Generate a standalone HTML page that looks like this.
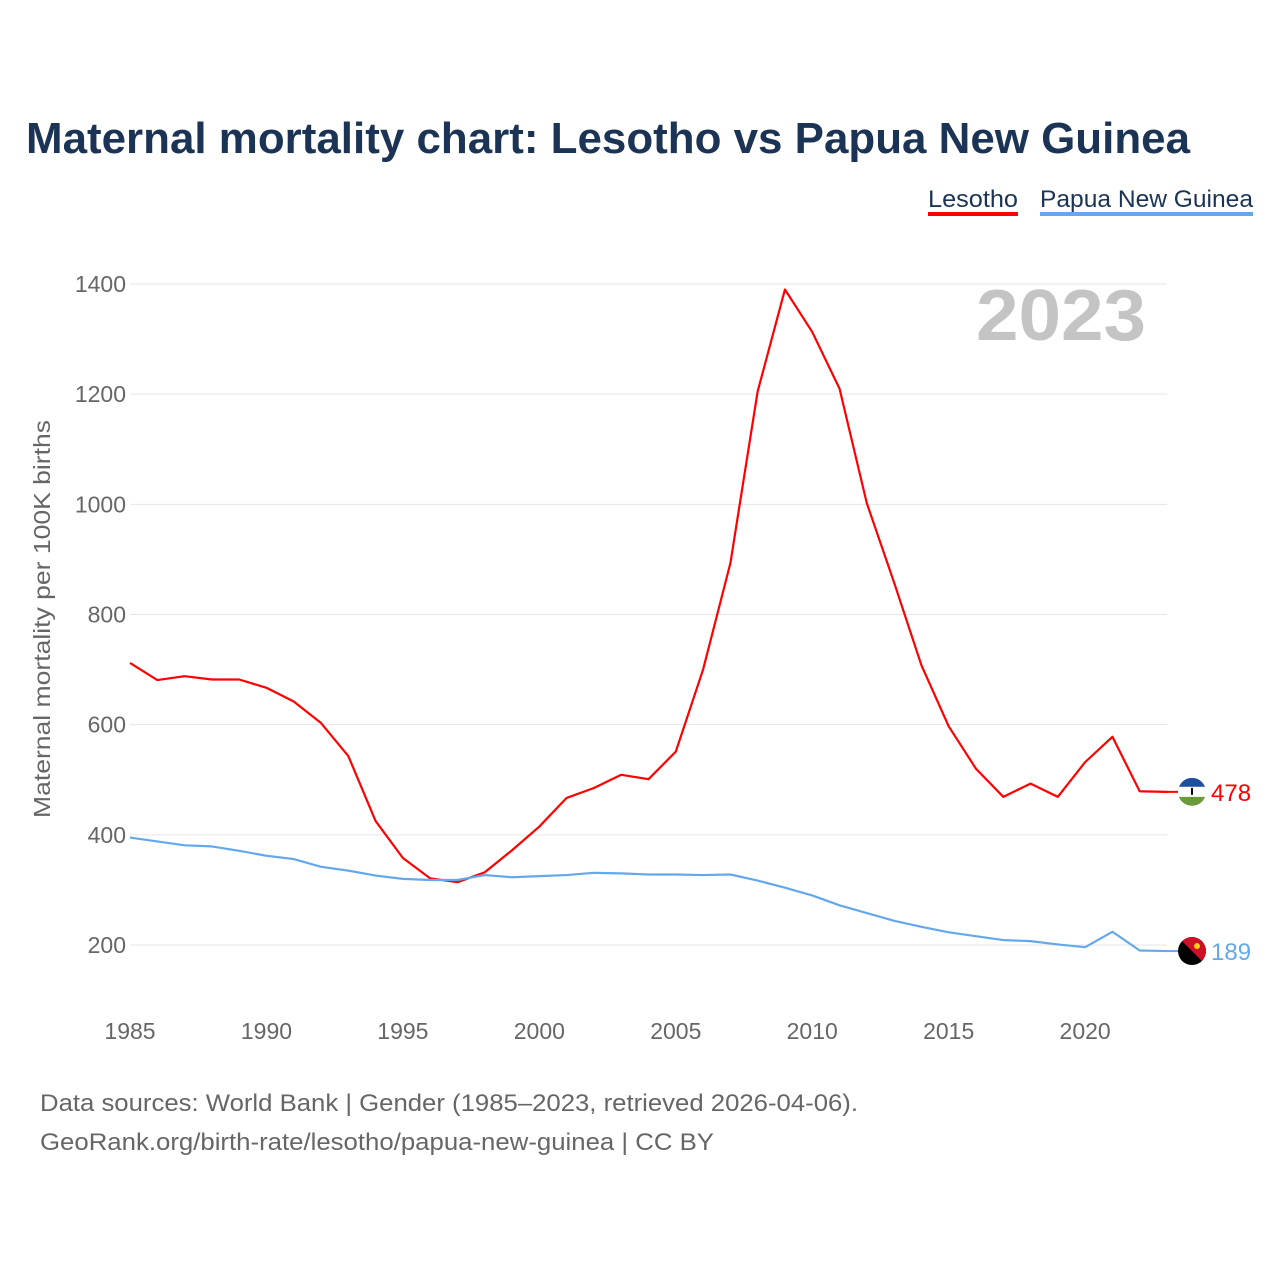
<!DOCTYPE html>
<html><head><meta charset="utf-8"><style>
body{margin:0;background:#fff;width:1280px;height:1280px;overflow:hidden;font-family:"Liberation Sans",sans-serif}
</style></head><body>
<svg width="1280" height="1280" xmlns="http://www.w3.org/2000/svg">
<text x="26" y="153" font-size="44" font-weight="bold" fill="#1b3455" textLength="1164" lengthAdjust="spacingAndGlyphs">Maternal mortality chart: Lesotho vs Papua New Guinea</text>
<g>
<text x="928" y="207" font-size="24" fill="#1b3455" textLength="90" lengthAdjust="spacingAndGlyphs">Lesotho</text>
<rect x="928" y="212" width="90" height="4" fill="#ff0000"/>
<text x="1040" y="207" font-size="24" fill="#1b3455" textLength="213" lengthAdjust="spacingAndGlyphs">Papua New Guinea</text>
<rect x="1040" y="212" width="213" height="4" fill="#64a8ec"/>
</g>
<text x="1146" y="340" font-size="72" font-weight="bold" fill="#c4c4c4" text-anchor="end" textLength="170" lengthAdjust="spacingAndGlyphs">2023</text>
<g id="grid"></g><g id="axes"></g><g id="lines"></g>
<text transform="translate(50,619) rotate(-90)" font-size="23" fill="#666" text-anchor="middle" textLength="398" lengthAdjust="spacingAndGlyphs">Maternal mortality per 100K births</text>
<text x="40" y="1111" font-size="24" fill="#666" textLength="818" lengthAdjust="spacingAndGlyphs">Data sources: World Bank | Gender (1985–2023, retrieved 2026-04-06).</text>
<text x="40" y="1150" font-size="24" fill="#666" textLength="674" lengthAdjust="spacingAndGlyphs">GeoRank.org/birth-rate/lesotho/papua-new-guinea | CC BY</text>
</svg>
<script>
const years=[];for(let y=1985;y<=2023;y++)years.push(y);
const lesotho=[712,681,688,682,682,667,642,603,543,425,358,321,314,332,372,415,467,485,509,501,551,700,893,1205,1390,1313,1210,1002,858,708,597,520,469,493,469,532,578,479,478];
const png=[395,388,381,379,371,362,356,342,335,326,320,318,318,327,323,325,327,331,330,328,328,327,328,317,304,290,272,258,244,233,223,216,209,207,201,196,224,190,189];
const yTicks=[200,400,600,800,1000,1200,1400];
const xTicks=[1985,1990,1995,2000,2005,2010,2015,2020];
const NS="http://www.w3.org/2000/svg";
const X=y=>130+(y-1985)*(1167-130)/38;
const Y=v=>945-(v-200)*(945-284)/1200;
function mk(t,a,p){const e=document.createElementNS(NS,t);for(const k in a)e.setAttribute(k,a[k]);p.appendChild(e);return e;}
const grid=document.getElementById('grid'),axes=document.getElementById('axes'),lines=document.getElementById('lines');
yTicks.forEach(v=>{
 const l=mk('line',{x1:130,x2:1167,y1:Y(v),y2:Y(v),stroke:'#e6e6e6','stroke-width':1},grid);
 
 
 const t=mk('text',{x:126,y:Y(v)+8,'font-size':23,fill:'#666','text-anchor':'end'},axes);t.textContent=v;
 
 
});
xTicks.forEach(v=>{
 const t=mk('text',{x:X(v),y:1039,'font-size':23,fill:'#666','text-anchor':'middle'},axes);t.textContent=v;
 
 
});
function series(vals,color,name,flag){
 const d=vals.map((v,i)=>(i?'L':'M')+X(years[i])+','+Y(v)).join('');
 const p=mk('path',{d:d,fill:'none',stroke:color,'stroke-width':2.2,'stroke-linejoin':'round'},lines);
 
 
 const last=vals[vals.length-1],ly=Y(last);
 mk('line',{x1:X(2023),x2:1178,y1:ly,y2:ly,stroke:color,'stroke-width':2},lines);
 const g=mk('g',{},lines);
 
 
 flag(g,1192,ly);
 const t=mk('text',{x:1211,y:ly+9,'font-size':24,fill:color},lines);t.textContent=last;
 
 
}
series(lesotho,'#ff0000','lesotho',(g,cx,cy)=>{
 const cp=mk('clipPath',{id:'c1'},g);mk('circle',{cx:cx,cy:cy,r:14},cp);
 const gg=mk('g',{'clip-path':'url(#c1)'},g);
 mk('rect',{x:cx-14,y:cy-14,width:28,height:9,fill:'#1e50a0'},gg);
 mk('rect',{x:cx-14,y:cy-5,width:28,height:10,fill:'#fff'},gg);
 mk('rect',{x:cx-14,y:cy+5,width:28,height:9,fill:'#6a9a3a'},gg);
 mk('rect',{x:cx-1,y:cy-4,width:2,height:7,fill:'#000'},gg);
});
series(png,'#64a8ec','png',(g,cx,cy)=>{
 const cp=mk('clipPath',{id:'c2'},g);mk('circle',{cx:cx,cy:cy,r:14},cp);
 const gg=mk('g',{'clip-path':'url(#c2)'},g);
 mk('rect',{x:cx-14,y:cy-14,width:28,height:28,fill:'#000'},gg);
 mk('path',{d:`M${cx-14},${cy-14}L${cx+14},${cy+14}L${cx+14},${cy-14}Z`,fill:'#ce1126'},gg);
 mk('circle',{cx:cx+5,cy:cy-5,r:3,fill:'#fcd116'},gg);
});
</script>
</body></html>
